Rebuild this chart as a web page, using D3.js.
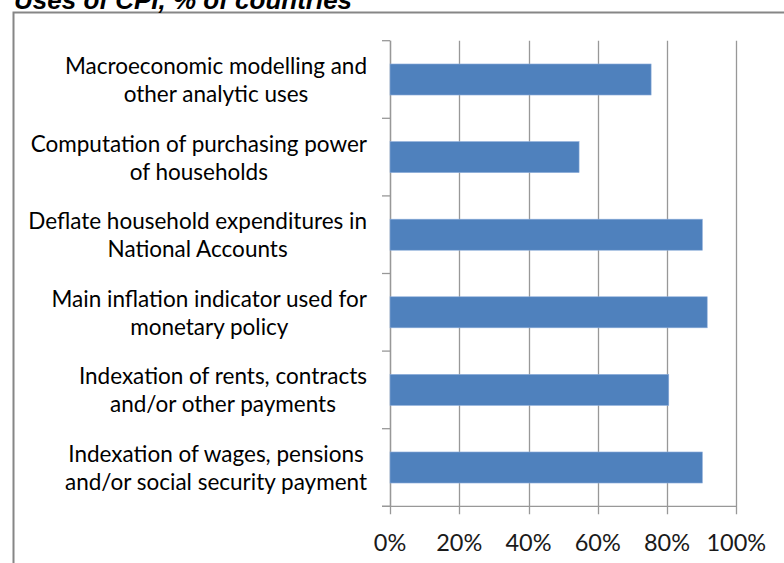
<!DOCTYPE html>
<html>
<head>
<meta charset="utf-8">
<script src="https://cdn.jsdelivr.net/npm/d3@7"></script>
<style>
  html, body { margin: 0; padding: 0; background: #fff; }
  svg { display: block; }
</style>
</head>
<body>
<svg id="chart" width="784" height="563"></svg>
<script>
const title = "Uses of CPI, % of countries";
const categories = [
  ["Macroeconomic modelling and", "other analytic uses"],
  ["Computation of purchasing power", "of households"],
  ["Deflate household expenditures in", "National Accounts"],
  ["Main inflation indicator used for", "monetary policy"],
  ["Indexation of rents, contracts", "and/or other payments"],
  ["Indexation of wages, pensions", "and/or social security payment"]
];
const values = [75.4, 54.6, 90.2, 91.6, 80.5, 90.2];
const xTicks = [0, 20, 40, 60, 80, 100];

const svg = d3.select("#chart");
const pLeft = 390, pRight = 736.3, pTop = 40.7, pBottom = 506.3;

// outer border
svg.append("rect").attr("x", 13.5).attr("y", 12.5).attr("width", 800).attr("height", 600)
  .attr("fill", "none").attr("stroke", "#868686").attr("stroke-width", 2);

// title (cut off at top, as in the reference)
svg.append("text").attr("x", 14).attr("y", 9)
  .attr("font-family", "Liberation Sans, Arial, sans-serif")
  .attr("font-weight", "bold").attr("font-style", "italic")
  .attr("font-size", 26).attr("fill", "#000").text(title);

const x = d3.scaleLinear().domain([0, 100]).range([pLeft, pRight]);
const y = d3.scaleBand().domain(d3.range(categories.length)).range([pTop, pBottom]).paddingInner(0.6).paddingOuter(0.3);
const yb = d3.scaleBand().domain(d3.range(categories.length)).range([pTop, pBottom]);

// gridlines
svg.append("g").selectAll("line").data(xTicks).join("line")
  .attr("x1", d => Math.round(x(d)) + 0.5).attr("x2", d => Math.round(x(d)) + 0.5)
  .attr("y1", pTop).attr("y2", pBottom + 8)
  .attr("stroke", "#989898").attr("stroke-width", 1.3);

// y axis line and ticks
svg.append("line").attr("x1", pLeft + 0.5).attr("x2", pLeft + 0.5).attr("y1", pTop).attr("y2", pBottom)
  .attr("stroke", "#989898").attr("stroke-width", 1.3);
const yTickPos = d3.range(categories.length + 1).map(i => i < categories.length ? yb(i) : pBottom);
svg.append("g").selectAll("line").data(yTickPos).join("line")
  .attr("x1", pLeft - 8).attr("x2", pLeft).attr("y1", d => d).attr("y2", d => d)
  .attr("stroke", "#989898").attr("stroke-width", 1.3);
// x axis line
svg.append("line").attr("x1", pLeft - 8).attr("x2", pRight).attr("y1", pBottom).attr("y2", pBottom)
  .attr("stroke", "#989898").attr("stroke-width", 1.3);

// bars
svg.append("g").selectAll("rect").data(values).join("rect")
  .attr("x", x(0)).attr("y", (d, i) => y(i))
  .attr("width", d => x(d) - x(0)).attr("height", y.bandwidth())
  .attr("fill", "#4F81BD").attr("stroke", "#8FAEDB").attr("stroke-width", 0.6);

// x tick labels
svg.append("g").selectAll("text").data(xTicks).join("text")
  .attr("x", d => x(d)).attr("y", 542)
  .attr("text-anchor", "middle").attr("dominant-baseline", "central")
  .attr("font-family", "Lato, sans-serif").attr("font-size", 23.5).attr("fill", "#1a1a1a")
  .text(d => d + "%");

// category labels
const lg = svg.append("g");
categories.forEach((lines, i) => {
  const cy = yb(i) + yb.bandwidth() / 2;
  const g = lg.append("g");
  const texts = lines.map((t, j) => g.append("text")
    .attr("y", cy + (j === 0 ? -14 : 14))
    .attr("dominant-baseline", "central").attr("text-anchor", "middle")
    .attr("font-family", "Lato, sans-serif").attr("font-size", 22.5).attr("fill", "#000")
    .text(t));
  const maxW = d3.max(texts, t => t.node().getComputedTextLength());
  texts.forEach(t => t.attr("x", 367 - maxW / 2));
});
</script>
</body>
</html>
